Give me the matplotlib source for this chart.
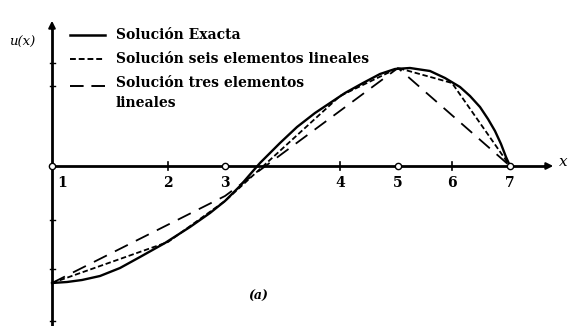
import matplotlib
matplotlib.use("Agg")
import matplotlib.pyplot as plt

# ---- data (units: node positions along x, u(x) in arbitrary units) ----
node_labels = ["1", "2", "3", "4", "5", "6", "7"]
node_x = [0.00, 1.16, 1.73, 2.88, 3.46, 4.00, 4.58]

exact_x = [0.00, 0.15, 0.30, 0.48, 0.68, 0.88, 1.13, 1.38, 1.58, 1.73, 1.88,
           2.01, 2.08, 2.28, 2.45, 2.63, 2.78, 2.93, 3.11, 3.28, 3.43, 3.58,
           3.78, 3.93, 4.08, 4.18, 4.28, 4.36, 4.43, 4.49, 4.54, 4.58]
exact_u = [-1.17, -1.16, -1.14, -1.10, -1.02, -0.91, -0.77, -0.61, -0.47,
           -0.35, -0.20, -0.05, 0.03, 0.23, 0.39, 0.53, 0.63, 0.73, 0.83,
           0.92, 0.97, 0.98, 0.95, 0.88, 0.79, 0.70, 0.59, 0.47, 0.35, 0.22,
           0.09, 0.00]

six_u = [-1.17, -0.76, -0.35, 0.70, 0.98, 0.83, 0.00]          # nodes 1..7
three_idx = [0, 2, 4, 6]                                        # nodes 1,3,5,7
three_u = [-1.17, -0.30, 0.98, 0.00]

legend_labels = ["Solución Exacta", "Solución seis elementos lineales",
                 "Solución tres elementos", "lineales"]

W, H = 571, 326
fig = plt.figure(figsize=(W / 100, H / 100), dpi=100)
ax = fig.add_axes([0, 0, 1, 1])
ax.set_xlim(-0.52, 5.19)
ax.set_ylim(-1.60, 1.66)
ax.axis("off")

serif = ["DejaVu Serif", "Liberation Serif"]

# axes
ax.plot([0, 4.95], [0, 0], color="black", lw=2.0, zorder=2)
ax.annotate("", xy=(5.04, 0), xytext=(4.9, 0),
            arrowprops=dict(arrowstyle="-|>", color="black", lw=1.5,
                            mutation_scale=10))
ax.plot([0, 0], [-1.62, 1.38], color="black", lw=2.0, zorder=2)
ax.annotate("", xy=(0, 1.48), xytext=(0, 1.34),
            arrowprops=dict(arrowstyle="-|>", color="black", lw=1.5,
                            mutation_scale=10))
ax.text(5.11, 0.04, "x", fontsize=11, style="italic", family=serif,
        ha="center", va="center")
ax.text(-0.30, 1.24, "u(x)", fontsize=9.5, style="italic", family=serif,
        ha="center", va="center")

# y-axis small ticks
for yt in [1.03, 0.80, -0.54, -1.03, -1.55]:
    ax.plot([-0.02, 0.03], [yt, yt], color="black", lw=1.0)

# x-axis small ticks at intermediate nodes
for i in [1, 3, 5]:
    ax.plot([node_x[i], node_x[i]], [-0.04, 0.04], color="black", lw=1.2)

# curves
ax.plot(exact_x, exact_u, color="black", lw=1.7, zorder=3)
ax.plot(node_x, six_u, color="black", lw=1.3, linestyle=(0, (3, 1.5)), zorder=3)
ax.plot([node_x[i] for i in three_idx], three_u, color="black", lw=1.3,
        linestyle=(0, (8, 5)), zorder=3)

# node circles for three-element mesh
ax.plot([node_x[i] for i in three_idx], [0] * 4, "o", ms=4.5,
        mfc="white", mec="black", mew=1.0, zorder=4)

# node labels
for i, (xv, lab) in enumerate(zip(node_x, node_labels)):
    off = 0.10 if i == 0 else 0.0
    ax.text(xv + off, -0.17, lab, fontsize=10, fontweight="bold",
            family=serif, ha="center", va="center")

# legend
lx0, lx1, tx = 0.18, 0.53, 0.64
ax.plot([lx0, lx1], [1.31, 1.31], color="black", lw=1.8)
ax.plot([lx0, lx1], [1.07, 1.07], color="black", lw=1.4, linestyle=(0, (3, 1.5)))
ax.plot([lx0, lx1], [0.80, 0.80], color="black", lw=1.4, linestyle=(0, (7, 4)))
ax.text(tx, 1.31, legend_labels[0], fontsize=10, fontweight="bold",
        family=serif, va="center", ha="left")
ax.text(tx, 1.07, legend_labels[1], fontsize=10, fontweight="bold",
        family=serif, va="center", ha="left")
ax.text(tx, 0.83, legend_labels[2], fontsize=10, fontweight="bold",
        family=serif, va="center", ha="left")
ax.text(tx, 0.63, legend_labels[3], fontsize=10, fontweight="bold",
        family=serif, va="center", ha="left")

ax.text(2.06, -1.30, "(a)", fontsize=9, style="italic", fontweight="bold",
        family=serif, ha="center", va="center")

fig.savefig("out.png", dpi=100, facecolor="white")
